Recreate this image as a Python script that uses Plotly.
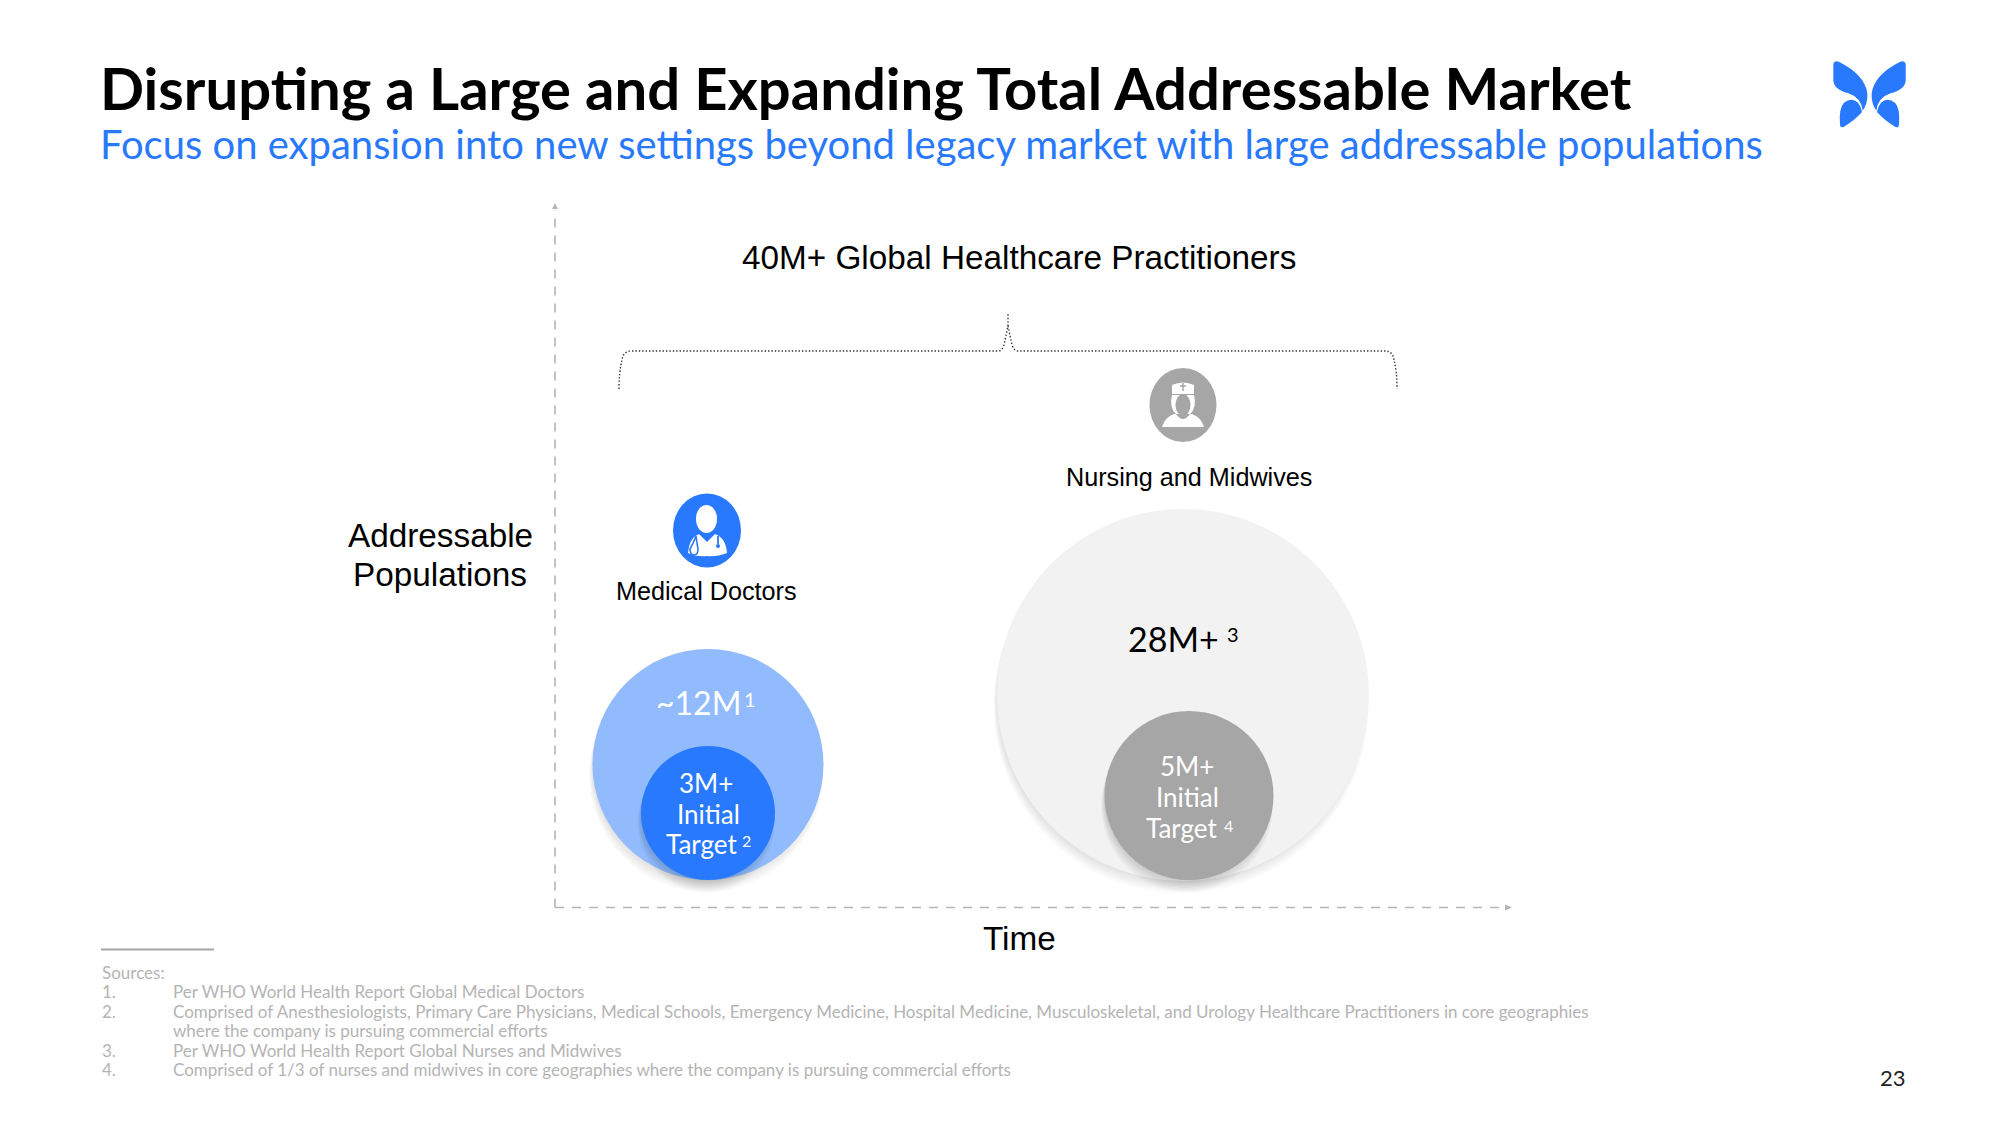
import plotly.graph_objects as go

TITLE = "Disrupting a Large and Expanding Total Addressable Market"
SUBTITLE = "Focus on expansion into new settings beyond legacy market with large addressable populations"
TOTAL_LABEL = "40M+ Global Healthcare Practitioners"
AXIS_Y = ["Addressable", "Populations"]
AXIS_X = "Time"
CATEGORIES = ["Medical Doctors", "Nursing and Midwives"]
TOTAL_VALUES = ["~12M", "28M+"]
TOTAL_NOTES = ["1", "3"]
TARGET_VALUES = ["3M+", "5M+"]
TARGET_NOTES = ["2", "4"]
TARGET_WORDS = ["Initial", "Target"]
SOURCES_HEAD = "Sources:"
SOURCE_NUMS = ["1.", "2.", "", "3.", "4."]
SOURCES = [
    "Per WHO World Health Report Global Medical Doctors",
    "Comprised of Anesthesiologists, Primary Care Physicians, Medical Schools, Emergency Medicine, Hospital Medicine, Musculoskeletal, and Urology Healthcare Practitioners in core geographies",
    "where the company is pursuing commercial efforts",
    "Per WHO World Health Report Global Nurses and Midwives",
    "Comprised of 1/3 of nurses and midwives in core geographies where the company is pursuing commercial efforts",
]
PAGE = "23"

BLUE = "#2979ff"; LIGHT = "#91bbfd"; GREY = "#a6a6a6"; PALE = "#f2f2f2"; FOOT = "#b4b4b4"
SANS = "Lato"; ARIAL = "Liberation Sans"

shapes, ann = [], []

def ell(cx, cy, rx, ry, fill, op=1.0):
    shapes.append(dict(type="circle", xref="x", yref="y", x0=cx-rx, x1=cx+rx, y0=cy-ry, y1=cy+ry,
                       fillcolor=fill, opacity=op, line=dict(width=0)))

def path(d, fill=None, color=None, w=0, dash=None):
    ln = dict(width=w)
    if color: ln["color"] = color
    if dash: ln["dash"] = dash
    s = dict(type="path", xref="x", yref="y", path=d, line=ln)
    if fill: s["fillcolor"] = fill
    shapes.append(s)

def txt(x, y, t, size, color="#000", font=ARIAL, anchor="center", weight=None):
    f = dict(size=size, color=color, family=font)
    if weight: f["weight"] = weight
    ann.append(dict(x=x, y=y, xref="x", yref="y", text=t, showarrow=False, xanchor=anchor,
                    yanchor="middle", align=anchor, font=f))

def shadow(cx, cy, r, a=0.012):
    for k in range(10):
        ell(cx - 2, cy + 2 + k, r - 2 + k * 0.4, r - 2 + k * 0.4, "#000000", a)

# axes
DASH = "9px,8px"
AX = "#b5b5b5"
shapes.append(dict(type="line", xref="x", yref="y", x0=555, x1=555, y0=907.5, y1=210,
                   line=dict(color=AX, width=1.6, dash=DASH)))
shapes.append(dict(type="line", xref="x", yref="y", x0=555, x1=1506, y0=907.5, y1=907.5,
                   line=dict(color=AX, width=1.6, dash=DASH)))
path("M 552 209 L 558 209 L 555 203 Z", fill=AX)
path("M 1505 904.5 L 1505 910.5 L 1512 907.5 Z", fill=AX)

# brace
path("M 619 389 Q 619 372 622 360 Q 623 351 632 351 L 998 351 Q 1002 351 1004 345 L 1008 326 L 1008 313 "
     "M 1008 326 L 1012 345 Q 1014 351 1018 351 L 1385 351 Q 1393 351 1394 360 Q 1397 372 1397 389",
     color="#333333", w=1.4, dash="1.4px,2px")

# bubbles
shadow(708, 764.5, 115.5)
ell(708, 764.5, 115.5, 115.5, LIGHT)
shadow(708, 813, 67, 0.016)
ell(708, 813, 67, 67, BLUE)
shadow(1183, 695, 186)
ell(1183, 695, 186, 186, PALE)
shadow(1189, 795.5, 84.5, 0.014)
ell(1189, 795.5, 84.5, 84.5, GREY)

# doctor icon
ell(707, 530.5, 34, 37, BLUE)
ell(706.5, 519, 10.5, 14, "#ffffff")
path("M 699 534 L 707 542 L 715 534 Q 726 538 727 553 Q 716 557 707 556 Q 696 557 688 553 Q 689 538 699 534 Z", fill="#ffffff")
path("M 696 536 Q 693 544 690 549 Q 690 555 694 555 Q 698 555 698 549 Q 697 544 696 536", color=BLUE, w=1.6)
path("M 718 536 L 718 544", color=BLUE, w=1.8)
ell(718, 546, 2, 2, BLUE)

# nurse icon
ell(1183, 405, 33.5, 37, GREY)
path("M 1172 385 Q 1183 380 1194 385 L 1194 394 L 1172 394 Z", fill="#ffffff")
path("M 1183 383 L 1183 391 M 1180 386 L 1186 386", color=GREY, w=1.5)
path("M 1172 395 L 1194 395 Q 1197 408 1190 414 L 1176 414 Q 1169 408 1172 395 Z", fill="#ffffff")
ell(1183, 405, 7.5, 11, GREY)
path("M 1174 414 L 1192 414 Q 1201 417 1204 427 L 1162 427 Q 1165 417 1174 414 Z", fill="#ffffff")
path("M 1176 414 Q 1183 424 1190 414 Z", fill=GREY)

# logo
def wings(m):
    X = lambda v: 1780 + (537 - v if m else v) / 3
    Y = lambda v: 40 + v / 3
    up = [("M",160,72),("Q",162,60,178,66),("Q",255,105,262,160),("Q",264,190,248,212),
          ("Q",243,172,205,160),("Q",160,148,160,120)]
    lo = [("M",180,252),("Q",176,205,192,188),("Q",215,170,234,188),("Q",244,200,246,216),
          ("Q",225,240,192,260),("Q",180,266,180,252)]
    for seg in (up, lo):
        d = ""
        for p in seg:
            d += p[0] + " " + " ".join(f"{X(p[i]):.1f} {Y(p[i+1]):.1f}" for i in range(1, len(p), 2)) + " "
        path(d + "Z", fill=BLUE)
wings(False); wings(True)

# footnote rule
shapes.append(dict(type="line", xref="x", yref="y", x0=101, x1=214, y0=949.5, y1=949.5,
                   line=dict(color=GREY, width=2)))

# texts
txt(98, 87, TITLE, 58, "#000", SANS, "left", weight=700)
txt(98, 144, SUBTITLE, 40, BLUE, SANS, "left")
txt(1018.5, 257.5, TOTAL_LABEL, 33.3)
txt(440, 535, AXIS_Y[0], 33.3)
txt(440, 574, AXIS_Y[1], 33.3)
txt(1019, 938, AXIS_X, 33.3)
txt(706, 591, CATEGORIES[0], 25.2)
txt(1189, 477, CATEGORIES[1], 25.2)

txt(698, 702, TOTAL_VALUES[0], 32, "#ffffff", SANS)
txt(750, 699, TOTAL_NOTES[0], 20, "#ffffff", SANS)
txt(1173.5, 638, TOTAL_VALUES[1], 34, "#000000", SANS)
txt(1233, 634, TOTAL_NOTES[1], 20, "#000000", SANS)

for vx, wx, tx, nx, ys, ny, v, n in [
    (706, 708, 701, 746, (783, 814, 844), 840, TARGET_VALUES[0], TARGET_NOTES[0]),
    (1187, 1187, 1181, 1228, (766, 797, 828), 825, TARGET_VALUES[1], TARGET_NOTES[1]),
]:
    txt(vx, ys[0], v, 26, "#ffffff", SANS)
    txt(wx, ys[1], TARGET_WORDS[0], 26, "#ffffff", SANS)
    txt(tx, ys[2], TARGET_WORDS[1], 26, "#ffffff", SANS)
    txt(nx, ny, n, 16, "#ffffff", SANS)

txt(100, 972, SOURCES_HEAD, 17, FOOT, SANS, "left")
for y, n, s in zip((991, 1011, 1030, 1050, 1069), SOURCE_NUMS, SOURCES):
    if n:
        txt(100, y, n, 17, FOOT, SANS, "left")
    txt(170.5, y, s, 17, FOOT, SANS, "left")
txt(1908, 1077, PAGE, 22, "#222222", SANS, "right")

fig = go.Figure(go.Scatter(x=[0, 2000], y=[0, 1125], mode="markers", marker=dict(opacity=0), hoverinfo="skip", showlegend=False))
fig.update_layout(width=2000, height=1125, margin=dict(l=0, r=0, t=0, b=0), paper_bgcolor="#fff", plot_bgcolor="#fff",
                  xaxis=dict(range=[0, 2000], visible=False), yaxis=dict(range=[1125, 0], visible=False),
                  shapes=shapes, annotations=ann, showlegend=False)
fig.write_html("out.html", config=dict(displayModeBar=False),
               post_script="document.body.style.margin='0';document.body.style.overflow='hidden';"
                           "var st=document.createElement('style');st.textContent='text{font-variant-ligatures:none}';document.head.appendChild(st);")
